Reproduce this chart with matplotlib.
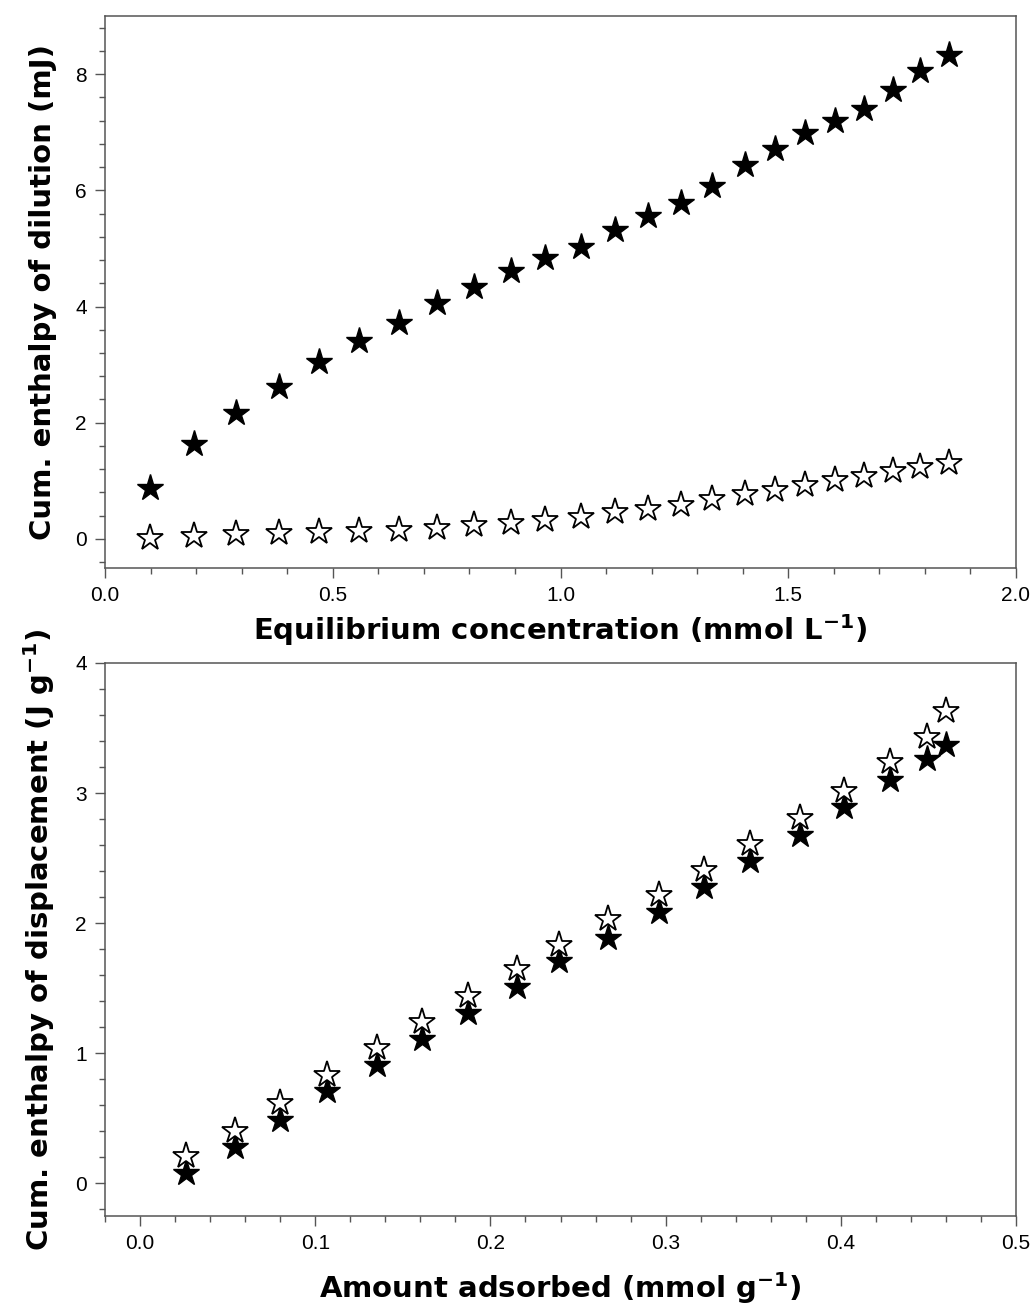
import matplotlib
matplotlib.use('Agg')
import matplotlib.pyplot as plt
from matplotlib.ticker import MultipleLocator

plt.rcParams['font.family'] = ['Liberation Sans', 'DejaVu Sans']
plt.rcParams['mathtext.fontset'] = 'dejavusans'
plt.rcParams['mathtext.default'] = 'bf'

# top panel: cumulative enthalpy of dilution vs equilibrium concentration
conc = [0.099, 0.196, 0.288, 0.381, 0.470, 0.558, 0.646, 0.728, 0.810, 0.891,
        0.967, 1.044, 1.120, 1.192, 1.265, 1.332, 1.404, 1.470, 1.537, 1.602,
        1.666, 1.729, 1.790, 1.852]
dil_filled = [0.88, 1.64, 2.16, 2.61, 3.04, 3.41, 3.72, 4.06, 4.33, 4.62,
              4.83, 5.03, 5.31, 5.55, 5.79, 6.07, 6.43, 6.71, 6.99, 7.20,
              7.40, 7.73, 8.06, 8.33]
dil_open = [0.02, 0.05, 0.08, 0.10, 0.12, 0.13, 0.16, 0.19, 0.24, 0.28,
            0.33, 0.38, 0.46, 0.52, 0.58, 0.68, 0.77, 0.85, 0.93, 1.02,
            1.08, 1.17, 1.23, 1.30]

# bottom panel: cumulative enthalpy of displacement vs amount adsorbed
adsorbed = [0.026, 0.054, 0.080, 0.1065, 0.135, 0.161, 0.187, 0.215, 0.239,
            0.267, 0.296, 0.322, 0.348, 0.3765, 0.402, 0.428, 0.449, 0.460]
disp_filled = [0.08, 0.28, 0.49, 0.71, 0.91, 1.11, 1.31, 1.51, 1.71,
               1.89, 2.09, 2.28, 2.48, 2.68, 2.89, 3.10, 3.26, 3.37]
disp_open = [0.21, 0.40, 0.62, 0.83, 1.04, 1.24, 1.44, 1.65, 1.83,
             2.03, 2.22, 2.41, 2.61, 2.81, 3.02, 3.24, 3.43, 3.63]

W, H = 1034, 1309
fig = plt.figure(figsize=(W / 100, H / 100), dpi=100)
ax1 = fig.add_axes([105 / W, 1 - 568 / H, (1016 - 105) / W, (568 - 16) / H])
ax2 = fig.add_axes([105 / W, 1 - 1216 / H, (1016 - 105) / W, (1216 - 663) / H])

spine_col = '#555555'
label_font = dict(family='DejaVu Sans', fontweight='bold', fontsize=21)


def style(ax):
    for sp in ax.spines.values():
        sp.set_color(spine_col)
        sp.set_linewidth(1.1)
    ax.tick_params(which='both', direction='out', color=spine_col, width=1.0,
                   top=False, right=False)
    ax.tick_params(which='major', length=7, pad=6, labelsize=15)
    ax.tick_params(which='minor', length=4)


ax1.plot(conc, dil_filled, linestyle='none', marker='*', ms=20,
         mfc='black', mec='black', mew=1.0)
ax1.plot(conc, dil_open, linestyle='none', marker='*', ms=20,
         mfc='white', mec='black', mew=1.3)
ax1.set_xlim(0, 2.0)
ax1.set_ylim(-0.5, 9)
ax1.xaxis.set_major_locator(MultipleLocator(0.5))
ax1.xaxis.set_minor_locator(MultipleLocator(0.1))
ax1.yaxis.set_major_locator(MultipleLocator(2))
ax1.yaxis.set_minor_locator(MultipleLocator(0.4))
ax1.set_xlabel('Equilibrium concentration (mmol L$^{-1}$)', labelpad=5, **label_font)
ax1.set_ylabel('Cum. enthalpy of dilution (mJ)', labelpad=13, **label_font)
style(ax1)

ax2.plot(adsorbed, disp_filled, linestyle='none', marker='*', ms=20,
         mfc='black', mec='black', mew=1.0)
ax2.plot(adsorbed, disp_open, linestyle='none', marker='*', ms=20,
         mfc='white', mec='black', mew=1.3)
ax2.set_xlim(-0.02, 0.5)
ax2.set_ylim(-0.25, 4)
ax2.xaxis.set_major_locator(MultipleLocator(0.1))
ax2.xaxis.set_minor_locator(MultipleLocator(0.02))
ax2.yaxis.set_major_locator(MultipleLocator(1))
ax2.yaxis.set_minor_locator(MultipleLocator(0.2))
ax2.set_xlabel('Amount adsorbed (mmol g$^{-1}$)', labelpad=12, **label_font)
ax2.set_ylabel('Cum. enthalpy of displacement (J g$^{-1}$)', labelpad=13, **label_font)
style(ax2)

fig.savefig('out.png', dpi=100)
